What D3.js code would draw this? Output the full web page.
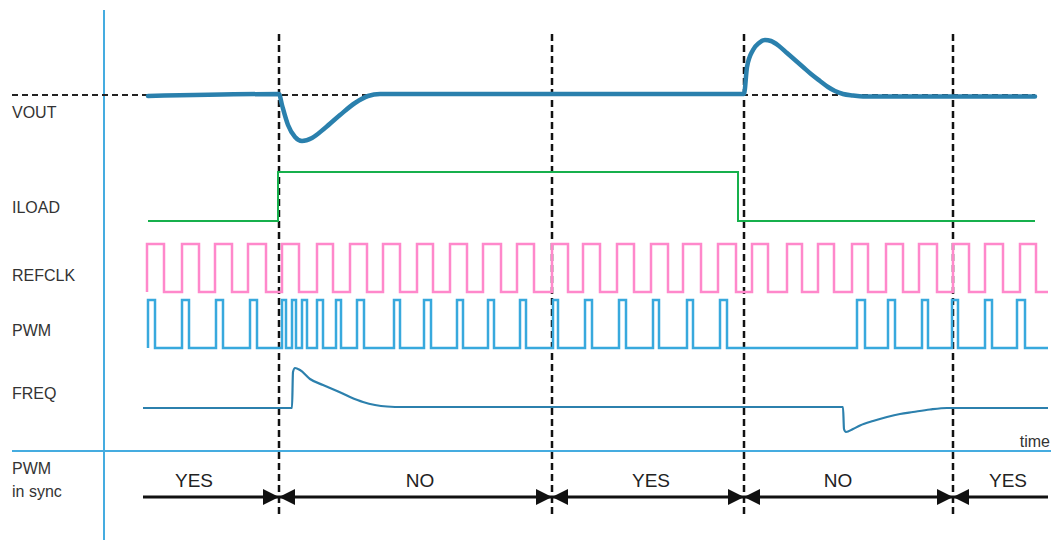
<!DOCTYPE html>
<html>
<head>
<meta charset="utf-8">
<script src="https://cdn.jsdelivr.net/npm/d3@7/dist/d3.min.js"></script>
<style>
  body { margin: 0; background: #fff; }
  svg { display: block; font-family: "Liberation Sans", Arial, sans-serif; }
</style>
</head>
<body>
<script>
// time in arbitrary units (0 .. 905)
const events = [136, 409, 601, 810]

// VOUT deviation from nominal [time, mV]
const vout = [[5,-1],[136,1],[139,-10],[145,-30],[152,-42],[159,-46],[169,-43],[182,-33],[197,-20],[212,-8],[225,-1],[237,1],[300,1],[601,1],
  [604,28],[610,45],[616,52],[622,55],[628,54],[636,49],[644,42],[652,35],[660,28],[668,21],[677,14],[685,8],[692,4],[700,1],[710,-0.5],[720,-1.5],[892,-1.5]]

// ILOAD step [start, rise, fall, end]
const iloadEdges = [5, 135, 595, 892]

// REFCLK edges
const refclkRise = [4,39,72,105,139,174,207,240,274,307,340,374,409,440,474,508,540,575,609,644,675,709,743,776,810,842,877]
const refclkFall = [21,56,89,123,156,190,224,257,290,324,358,391,425,457,491,525,558,593,625,659,691,725,760,794,826,860,893]

// PWM pulses [rise, fall]
const pwmPulses = [[5,12],[39,46],[73,80],[107,114],[139,143],[149,153],[159,164],[174,180],[193,198],[214,221],[251,257],[281,288],[314,320],
  [345,351],[377,383],[410,415],[442,449],[476,483],[510,516],[544,550],[577,584],[714,722],[745,752],[779,785],[809,815],[842,849],[874,882]]

// FREQ deviation [time, value]
const freq = [[0,-1],[149,-1],[150,35],[152,39],[157,37],[167,28],[180,22],[194,16],[207,10],[220,5],[232,2],[244,0.5],[260,0],[600,0],[700,0],
  [701,-22],[703,-25],[710,-22],[717,-18.5],[730,-14],[744,-10],[757,-7],[770,-5],[787,-2.5],[804,-1],[905,-1]]

const rowLabels = ["VOUT", "ILOAD", "REFCLK", "PWM", "FREQ"]
const syncLabels = ["YES", "NO", "YES", "NO", "YES"]
const syncBounds = [0, 136, 409, 601, 810, 905]
const syncLabelAt = [51, 277, 508, 695, 865]

const width = 1051, height = 540

const svg = d3.select("body").append("svg")
    .attr("width", width)
    .attr("height", height)

const x = d3.scaleLinear().domain([0, 905]).range([143, 1048])
const voutY = d3.scaleLinear().domain([-60, 60]).range([155, 35])
const iloadY = d3.scaleLinear().domain([0, 1]).range([221, 172])
const refclkY = d3.scaleLinear().domain([0, 1]).range([292, 244])
const pwmY = d3.scaleLinear().domain([0, 1]).range([348, 300])
const freqY = d3.scaleLinear().domain([-50, 50]).range([457, 357])

const axisColor = "#45ace0"

// axes
svg.append("line")
    .attr("x1", 104).attr("x2", 104)
    .attr("y1", 10).attr("y2", height)
    .attr("stroke", axisColor).attr("stroke-width", 2)
svg.append("line")
    .attr("x1", 12).attr("x2", width)
    .attr("y1", 451).attr("y2", 451)
    .attr("stroke", axisColor).attr("stroke-width", 2)

// nominal vout reference
svg.append("line")
    .attr("x1", 12).attr("x2", x(892))
    .attr("y1", voutY(0)).attr("y2", voutY(0))
    .attr("stroke", "#222").attr("stroke-width", 2)
    .attr("stroke-dasharray", "6,4")

// event markers
svg.selectAll(".event")
    .data(events)
    .enter()
    .append("line")
    .attr("class", "event")
    .attr("x1", d => x(d)).attr("x2", d => x(d))
    .attr("y1", 34).attr("y2", 515)
    .attr("stroke", "#111").attr("stroke-width", 2.5)
    .attr("stroke-dasharray", "7,4")

function stepPoints(pulses, start, end) {
    const pts = [[start, 0]]
    pulses.forEach(p => {
        pts.push([p[0], 0], [p[0], 1], [p[1], 1], [p[1], 0])
    })
    pts.push([end, 0])
    return pts
}

// ILOAD
const iloadPts = [[iloadEdges[0], 0], [iloadEdges[1], 0], [iloadEdges[1], 1], [iloadEdges[2], 1], [iloadEdges[2], 0], [iloadEdges[3], 0]]
svg.append("path")
    .attr("d", d3.line().x(d => x(d[0])).y(d => iloadY(d[1]))(iloadPts))
    .attr("fill", "none").attr("stroke", "#16b04c").attr("stroke-width", 2)

// REFCLK
const refPulses = refclkRise.map((r, i) => [r, refclkFall[i]])
svg.append("path")
    .attr("d", d3.line().x(d => x(d[0])).y(d => refclkY(d[1]))(stepPoints(refPulses, 4, 905)))
    .attr("fill", "none").attr("stroke", "#ff88cb").attr("stroke-width", 2.5)

// PWM
svg.append("path")
    .attr("d", d3.line().x(d => x(d[0])).y(d => pwmY(d[1]))(stepPoints(pwmPulses, 5, 905)))
    .attr("fill", "none").attr("stroke", "#38a9dd").attr("stroke-width", 2.5)

// FREQ
svg.append("path")
    .attr("d", d3.line().curve(d3.curveMonotoneX).x(d => x(d[0])).y(d => freqY(d[1]))(freq))
    .attr("fill", "none").attr("stroke", "#2c80ad").attr("stroke-width", 2.2)

// VOUT
svg.append("path")
    .attr("d", d3.line().curve(d3.curveMonotoneX).x(d => x(d[0])).y(d => voutY(d[1]))(vout))
    .attr("fill", "none").attr("stroke", "#2a80ad").attr("stroke-width", 4.5)
    .attr("stroke-linecap", "round")

// row labels
const labelY = [118, 213, 281, 336, 399]
svg.selectAll(".rowlabel")
    .data(rowLabels)
    .enter()
    .append("text")
    .attr("x", 12)
    .attr("y", (d, i) => labelY[i])
    .attr("font-size", 16)
    .attr("fill", "#333")
    .text(d => d)

svg.append("text")
    .attr("x", 1050).attr("y", 447)
    .attr("text-anchor", "end")
    .attr("font-size", 16).attr("fill", "#333")
    .text("time")

svg.append("text").attr("x", 12).attr("y", 474)
    .attr("font-size", 16).attr("fill", "#333").text("PWM")
svg.append("text").attr("x", 12).attr("y", 497)
    .attr("font-size", 16).attr("fill", "#333").text("in sync")

// arrow heads
const defs = svg.append("defs")
defs.append("marker")
    .attr("id", "head")
    .attr("markerUnits", "userSpaceOnUse")
    .attr("viewBox", "-16 -8 16 16")
    .attr("refX", 0).attr("refY", 0)
    .attr("markerWidth", 16).attr("markerHeight", 16)
    .attr("orient", "auto-start-reverse")
    .append("path")
    .attr("d", "M0,0L-16,-8L-16,8Z")
    .attr("fill", "#111")

const segs = syncLabels.map((d, i) => ({label: d, from: syncBounds[i], to: syncBounds[i + 1], at: syncLabelAt[i], i: i}))

const sync = svg.selectAll(".sync")
    .data(segs)
    .enter()
    .append("g")
    .attr("class", "sync")

sync.append("line")
    .attr("x1", d => x(d.from)).attr("x2", d => x(d.to))
    .attr("y1", 497).attr("y2", 497)
    .attr("stroke", "#111").attr("stroke-width", 3)
    .attr("marker-start", d => d.i > 0 ? "url(#head)" : null)
    .attr("marker-end", d => d.i < segs.length - 1 ? "url(#head)" : null)

sync.append("text")
    .attr("x", d => x(d.at))
    .attr("y", 487)
    .attr("text-anchor", "middle")
    .attr("font-size", 19)
    .attr("fill", "#222")
    .text(d => d.label)
</script>
</body>
</html>
